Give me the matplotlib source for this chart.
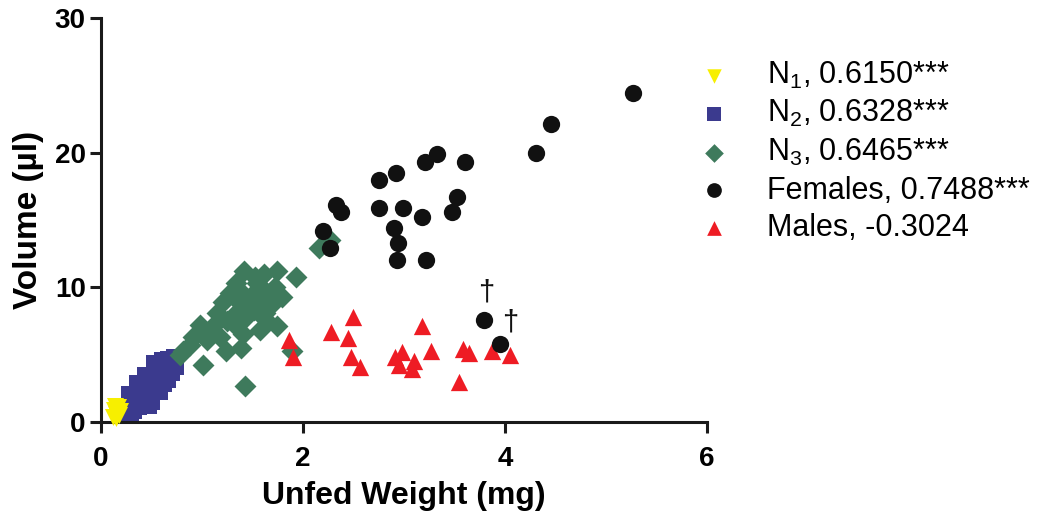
import matplotlib
matplotlib.use('Agg')
import matplotlib.pyplot as plt

# Values (unfed weight mg, volume ul)
n1_x = [0.13, 0.15, 0.17, 0.15, 0.18, 0.14, 0.19, 0.12]
n1_y = [0.9, 0.6, 1.1, 0.3, 0.5, 1.2, 0.8, 0.4]

n2_x = [0.27, 0.30, 0.33, 0.35, 0.38, 0.40, 0.42, 0.44, 0.46, 0.48, 0.50, 0.50,
        0.52, 0.54, 0.56, 0.58, 0.58, 0.60, 0.62, 0.63, 0.65, 0.66, 0.68, 0.70,
        0.72, 0.55, 0.45, 0.40, 0.36, 0.32, 0.60, 0.70, 0.30, 0.25, 0.28,
        0.36, 0.44, 0.52, 0.66, 0.74, 0.62, 0.48]
n2_y = [0.9, 1.3, 0.8, 1.6, 1.1, 2.0, 1.4, 2.4, 1.8, 2.8, 2.2, 1.5,
        3.2, 2.6, 3.6, 3.0, 2.2, 4.0, 3.4, 4.5, 3.8, 4.7, 4.2, 4.6,
        4.8, 4.2, 3.0, 2.6, 2.0, 1.5, 4.6, 3.6, 0.6, 0.4, 2.1,
        2.9, 3.5, 4.4, 3.1, 4.1, 2.8, 1.2]

n3_x = [2.16, 2.27, 1.93, 1.42, 1.61, 1.74, 1.34, 1.54, 1.72, 1.21, 1.38, 1.57,
        1.67, 1.31, 1.44, 1.74, 0.98, 1.11, 1.61, 1.18, 1.41, 1.57, 0.88, 1.05,
        1.24, 1.39, 0.81, 1.01, 1.43, 1.89, 1.48, 1.28, 1.15, 0.91, 1.51, 1.64,
        1.79, 1.34, 0.78, 1.25, 1.52, 1.62, 1.08, 1.46, 1.36, 1.70]
n3_y = [12.9, 13.5, 10.8, 11.2, 11.0, 11.2, 10.3, 10.3, 10.0, 8.9, 8.8, 8.8,
        8.6, 7.9, 7.8, 7.1, 7.2, 7.1, 7.7, 6.3, 6.5, 6.8, 5.7, 6.1,
        5.3, 5.5, 5.3, 4.2, 2.7, 5.3, 9.3, 9.6, 8.1, 6.3, 8.3, 9.6,
        9.3, 7.1, 5.0, 7.5, 10.8, 8.1, 6.6, 8.6, 9.9, 9.0]

fem_x = [5.27, 4.46, 4.31, 3.33, 3.21, 3.60, 2.92, 2.75, 2.33, 2.38, 2.75, 2.99,
         3.52, 3.48, 3.18, 2.90, 2.94, 2.93, 3.22, 2.20, 2.27, 3.79, 3.95]
fem_y = [24.4, 22.1, 20.0, 19.9, 19.3, 19.3, 18.5, 18.0, 16.1, 15.6, 15.9, 15.9,
         16.7, 15.6, 15.2, 14.4, 13.3, 12.0, 12.0, 14.2, 12.9, 7.6, 5.8]

male_x = [2.50, 2.28, 2.45, 3.18, 1.86, 1.90, 2.48, 2.56, 2.91, 2.98, 2.95, 3.10,
          3.08, 3.27, 3.58, 3.64, 3.54, 3.87, 4.05]
male_y = [7.8, 6.7, 6.2, 7.1, 6.1, 4.8, 4.8, 4.1, 4.8, 5.2, 4.2, 4.5,
          3.9, 5.3, 5.4, 5.1, 3.0, 5.3, 5.0]

dagger_x = [3.81, 4.05]
dagger_y = [9.6, 7.4]

labels = [r'N$_1$, 0.6150***', r'N$_2$, 0.6328***', r'N$_3$, 0.6465***',
          'Females, 0.7488***', 'Males, -0.3024']

plt.rcParams['font.family'] = ['Liberation Sans', 'DejaVu Sans']
plt.rcParams['mathtext.fontset'] = 'custom'
plt.rcParams['mathtext.rm'] = 'Liberation Sans'
plt.rcParams['mathtext.it'] = 'Liberation Sans'

fig = plt.figure(figsize=(10.5, 5.28), dpi=100)
ax = fig.add_axes([0.0962, 0.2008, 0.5771, 0.7652])

ax.scatter(n1_x, n1_y, marker='v', s=150, color='#f7ef00', lw=0, label=labels[0], zorder=3, clip_on=False)
ax.scatter(n2_x, n2_y, marker='s', s=135, color='#3b3a8e', lw=0, label=labels[1], zorder=2)
ax.scatter(n3_x, n3_y, marker='D', s=125, color='#3e7a5c', lw=0, label=labels[2], zorder=2)
ax.scatter(fem_x, fem_y, marker='o', s=155, color='#111111', lw=0, label=labels[3], zorder=4)
ax.scatter(male_x, male_y, marker='^', s=155, color='#ee1c24', lw=0, label=labels[4], zorder=3)

for x, y in zip(dagger_x, dagger_y):
    ax.text(x, y, '\u2020', fontsize=21, ha='center', va='center', color='#111111')

ax.set_xlim(0, 6)
ax.set_ylim(0, 30)
ax.set_xticks([0, 2, 4, 6])
ax.set_yticks([0, 10, 20, 30])

for s in ['top', 'right']:
    ax.spines[s].set_visible(False)
for s in ['left', 'bottom']:
    ax.spines[s].set_linewidth(2.2)
    ax.spines[s].set_color('#1a1a1a')
ax.tick_params(direction='out', length=8, width=2.2, color='#1a1a1a', labelsize=20, pad=3)
for lab in ax.get_xticklabels() + ax.get_yticklabels():
    lab.set_fontweight('bold')
ax.tick_params(axis='x', pad=9)

ax.set_xlabel('Unfed Weight (mg)', fontsize=23, fontweight='bold', labelpad=7)
ax.set_ylabel('Volume (\u00b5l)', fontsize=24, fontweight='bold', labelpad=8)

leg = ax.legend(loc='upper left', bbox_to_anchor=(0.639, 0.91), bbox_transform=fig.transFigure,
                frameon=False, fontsize=22, handletextpad=0.75, labelspacing=0.245,
                markerscale=0.85, borderaxespad=0)

fig.savefig('out.png', dpi=100)
